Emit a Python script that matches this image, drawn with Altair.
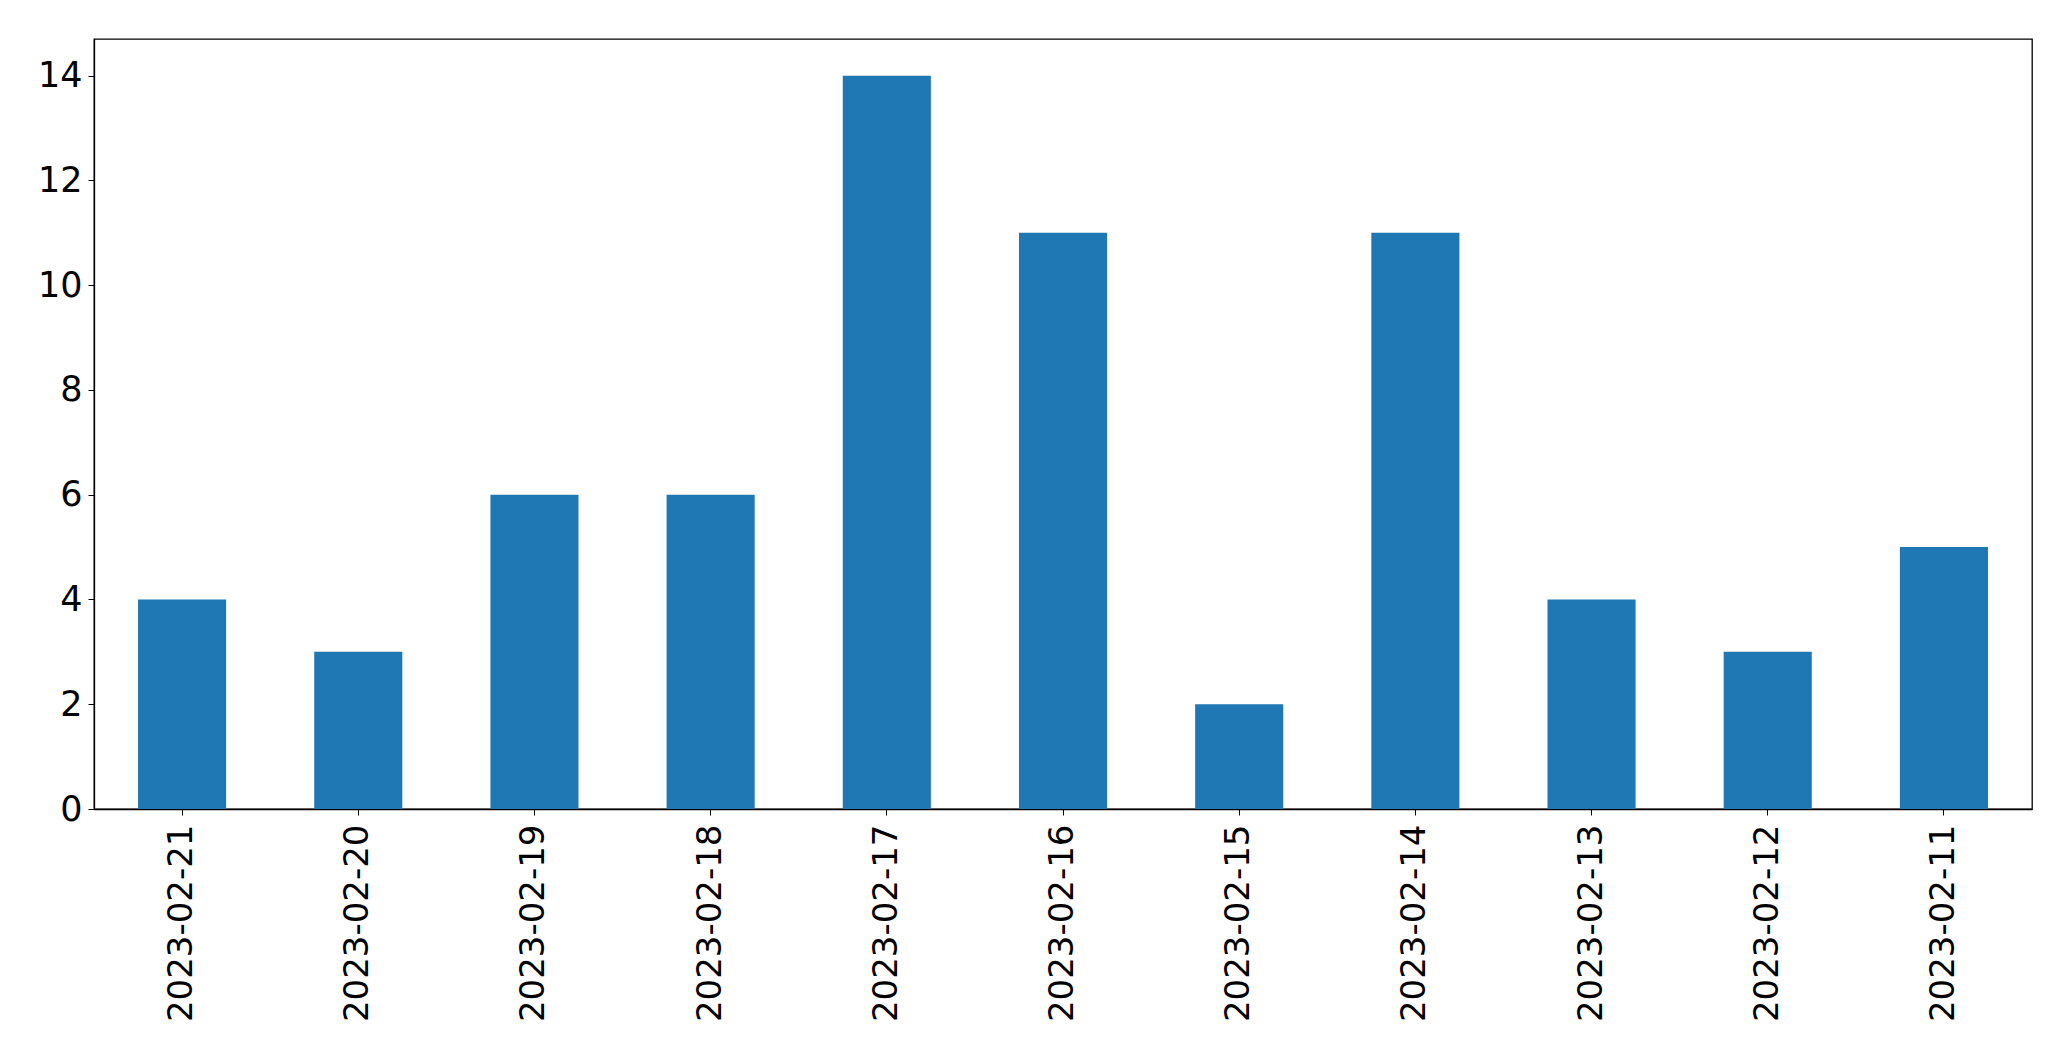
import altair as alt
import pandas as pd

dates = ["2023-02-21", "2023-02-20", "2023-02-19", "2023-02-18", "2023-02-17",
         "2023-02-16", "2023-02-15", "2023-02-14", "2023-02-13", "2023-02-12",
         "2023-02-11"]
counts = [4, 3, 6, 6, 14, 11, 2, 11, 4, 3, 5]
y_ticks = [0, 2, 4, 6, 8, 10, 12, 14]

df = pd.DataFrame({"date": dates, "count": counts})

chart = alt.Chart(df).mark_bar(color="#1f77b4").encode(
    x=alt.X("date:N", sort=dates, title=None,
            scale=alt.Scale(paddingInner=0.5, paddingOuter=0.25),
            axis=alt.Axis(labelAngle=-90, labelAlign="right", labelBaseline="middle",
                          labelFontSize=34, labelFont="DejaVu Sans", labelColor="black",
                          labelLimit=0,
                          tickColor="black", tickSize=6, labelPadding=9,
                          domainColor="black", domainWidth=1.3)),
    y=alt.Y("count:Q", title=None,
            scale=alt.Scale(domain=[0, 14.7], nice=False, zero=True),
            axis=alt.Axis(values=y_ticks, grid=False, labelFontSize=35,
                          labelFont="DejaVu Sans", labelColor="black",
                          tickColor="black", tickSize=6, labelPadding=6,
                          domainColor="black", domainWidth=1.3)),
).properties(
    width=1938, height=770,
    autosize=alt.AutoSizeParams(type="none"),
    padding={"left": 86, "top": 31, "right": 30, "bottom": 240},
).configure_view(stroke="black", strokeWidth=1.3)

chart.save("out.html", embed_options={"renderer": "svg", "actions": False})
